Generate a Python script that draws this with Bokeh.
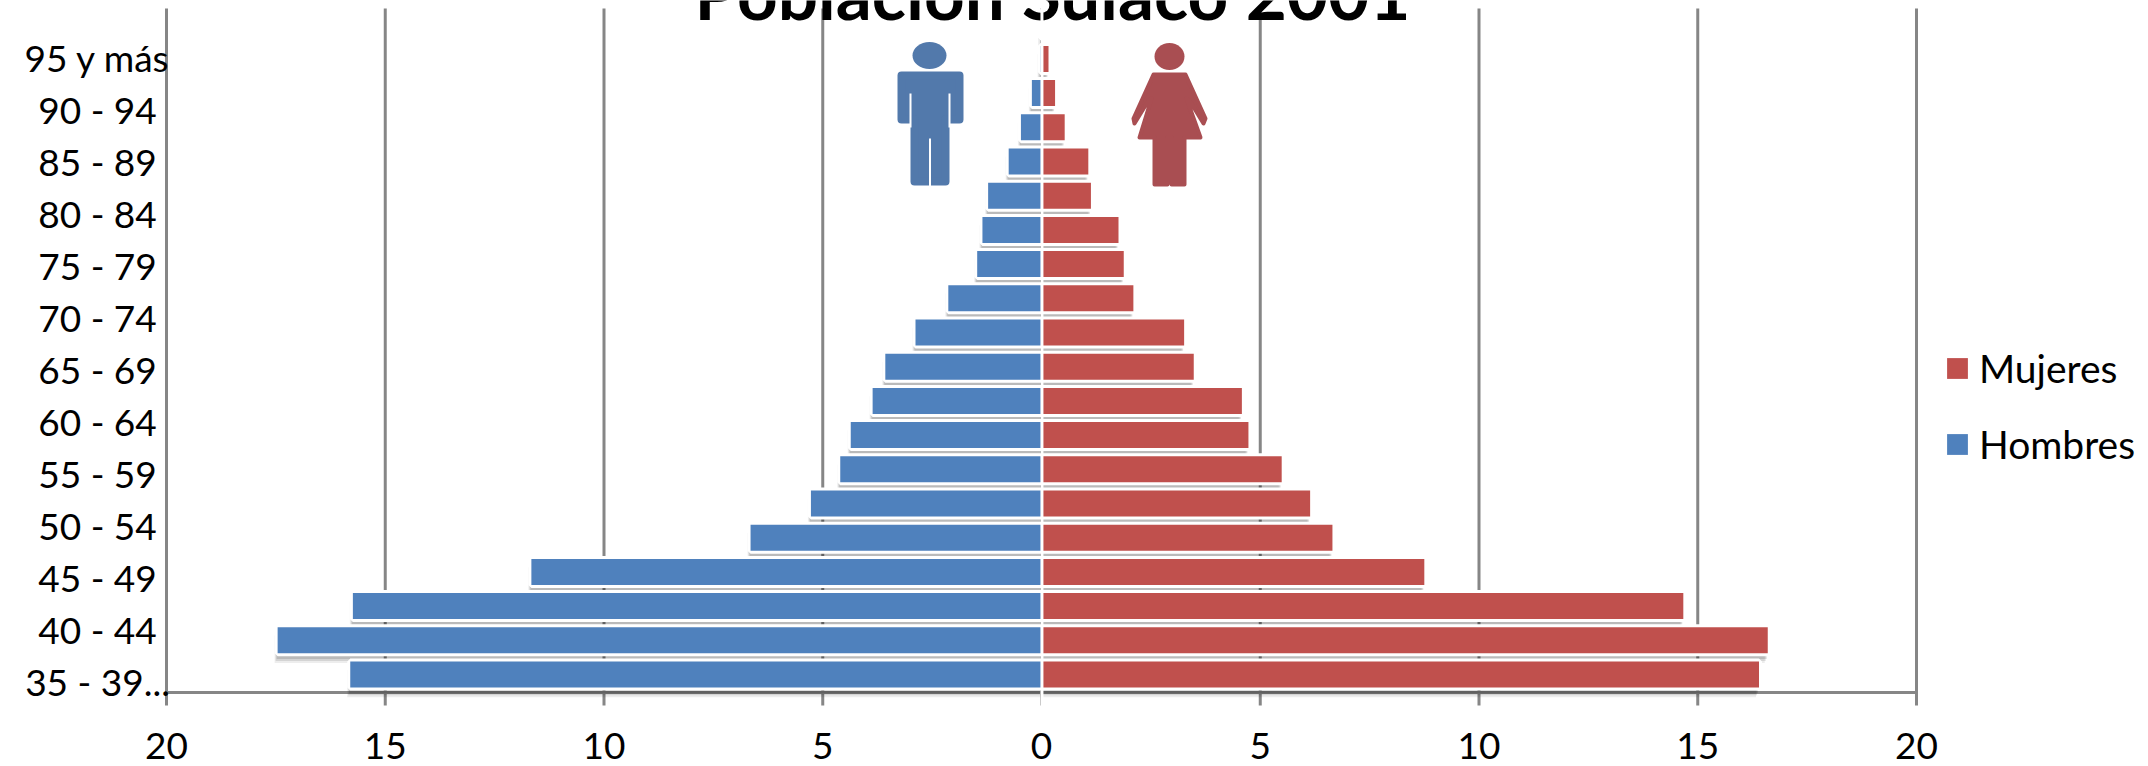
from bokeh.plotting import figure
from bokeh.models import Range1d, Label, Legend, LegendItem, Span
from bokeh.core.properties import value
from bokeh.embed import file_html
from bokeh.resources import INLINE

rows = list(range(20))
hombres = [15.8, 17.46, 15.74, 11.66, 6.65, 5.27, 4.6, 4.36, 3.86, 3.57, 2.88, 2.13, 1.47, 1.35, 1.22, 0.75, 0.47, 0.22, 0.02, 0.01]
mujeres = [16.4, 16.6, 14.67, 8.75, 6.65, 6.14, 5.49, 4.73, 4.58, 3.48, 3.26, 2.1, 1.88, 1.76, 1.13, 1.07, 0.53, 0.31, 0.16, 0.01]
age_labels = ["35 - 39...", "40 - 44", "45 - 49", "50 - 54", "55 - 59", "60 - 64", "65 - 69",
              "70 - 74", "75 - 79", "80 - 84", "85 - 89", "90 - 94", "95 y más"]
x_ticks = [-20, -15, -10, -5, 0, 5, 10, 15, 20]
x_tick_labels = ["20", "15", "10", "5", "0", "5", "10", "15", "20"]
title = "Población Sulaco 2001"

BLUE, RED = "#4f81bd", "#c0504d"
GRAY = "#868686"
FONT = "Lato"
W, H, BOTTOM_Y = 2148, 766, 692
LEFT, RIGHT = 166, 1916
PX_UNIT = (RIGHT - LEFT) / 40
ROW_PX = 34.2
ROW0_Y = 674
LO = (ROW0_Y - H) / ROW_PX
HI = ROW0_Y / ROW_PX
n = len(x_ticks)

p = figure(width=W, height=H, output_backend="svg", y_axis_location=None, x_axis_location=None,
           toolbar_location=None,
           x_range=Range1d(-20 - LEFT / PX_UNIT, 20 + (W - RIGHT) / PX_UNIT), y_range=Range1d(LO, HI),
           min_border_left=0, min_border_right=0, min_border_top=0, min_border_bottom=0,
           outline_line_color=None, background_fill_color="white", margin=(0, 0, 0, 0))

p.ygrid.visible = False
p.xgrid.visible = False

# Pixel ranges for the decoration and labels
p.extra_x_ranges["px"] = Range1d(0, W)
p.extra_y_ranges["py"] = Range1d(H, 0)
p.extra_y_ranges["labels"] = Range1d((681 - H) / 52, 681 / 52)
kw = dict(x_range_name="px", y_range_name="py")

# Gridlines, ticks and axis line
p.segment(x0=x_ticks, x1=x_ticks, y0=[8] * n, y1=[705] * n, line_color=GRAY, line_width=3, y_range_name="py")
p.segment(x0=[x_ticks[0]], x1=[x_ticks[-1]], y0=[BOTTOM_Y], y1=[BOTTOM_Y], line_color=GRAY, line_width=3,
          y_range_name="py")
for t, s in zip(x_ticks, x_tick_labels):
    p.add_layout(Label(x=t, y=745, text=s, y_range_name="py", text_align="center", text_baseline="middle",
                       text_font=FONT, text_font_size="37px", text_color="black"))

# Age labels: 13 labels evenly spread, independent from bar rows
for i, t in enumerate(age_labels):
    p.add_layout(Label(x=97, y=i, text=t, x_range_name="px", y_range_name="labels",
                       text_align="center", text_baseline="middle", text_font=FONT,
                       text_font_size="37px", text_color="black"))

# Shadows
for i, (dx, dy, a) in enumerate([(-1, 5, 0.12), (-2, 7, 0.10), (-3, 9, 0.07)]):
    name = f"s{i}"
    p.extra_y_ranges[name] = Range1d(LO + dy / ROW_PX, HI + dy / ROW_PX)
    d = dx / PX_UNIT
    p.hbar(y=rows, left=[-v + d for v in hombres], right=[v + d for v in mujeres], height=0.80,
           fill_color="black", fill_alpha=a, line_color=None, y_range_name=name)

# White frames
p.hbar(y=rows, left=[-v for v in hombres], right=[0] * 20, height=0.76, fill_color="white",
       line_color="white", line_width=6)
p.hbar(y=rows, left=[0] * 20, right=mujeres, height=0.76, fill_color="white",
       line_color="white", line_width=6)

# Bars
r_h = p.hbar(y=rows, left=[-v for v in hombres], right=[0] * 20, height=0.76, fill_color=BLUE, line_color=None)
r_m = p.hbar(y=rows, left=[0] * 20, right=mujeres, height=0.76, fill_color=RED, line_color=None)

p.add_layout(Span(location=0.01, dimension="height", line_color="white", line_width=3, level="glyph",
                  ))

# Person icons
MAN, WOMAN = "#5279ab", "#a94e52"
p.ellipse(x=[929], y=[55], width=34, height=27, fill_color=MAN, line_color=None, **kw)
p.patch(x=[901, 959, 959, 945, 945, 914, 914, 901],
        y=[75, 75, 119, 119, 181, 181, 119, 119],
        fill_color=MAN, line_color=MAN, line_width=8, line_join="round", **kw)
p.segment(x0=[910, 949, 929.5], x1=[910, 949, 929.5], y0=[93, 93, 138], y1=[127, 127, 190],
          line_color="white", line_width=2, **kw)
p.ellipse(x=[1169], y=[56], width=30, height=27, fill_color=WOMAN, line_color=None, **kw)
p.patch(x=[1153, 1185, 1205, 1203, 1189, 1186, 1200, 1184, 1184, 1171, 1171, 1167, 1167, 1154, 1154, 1139, 1151, 1148, 1134, 1133],
        y=[74, 74, 118, 123, 100, 98, 137, 137, 184, 184, 137, 137, 184, 184, 137, 137, 98, 100, 123, 118],
        fill_color=WOMAN, line_color=WOMAN, line_width=4, line_join="round", **kw)

# Legend
leg = Legend(items=[LegendItem(label="Mujeres", renderers=[r_m]), LegendItem(label="Hombres", renderers=[r_h])],
             location=(1944, 299), orientation="vertical", border_line_color=None,
             background_fill_alpha=0, glyph_width=26, glyph_height=26, label_text_font=FONT,
             label_text_font_size="39px", label_text_color="black", spacing=30, padding=0,
             margin=0, label_standoff=9)
p.add_layout(leg, "center")

# Title, cropped by the top of the page
p.text(x=[1052], y=[-8], text=[title], text_font=value(FONT), text_font_style="bold", text_font_size="71px",
       text_align="center", text_baseline="alphabetic", text_color="black", **kw)

open("out.html", "w").write(file_html(p, INLINE))
